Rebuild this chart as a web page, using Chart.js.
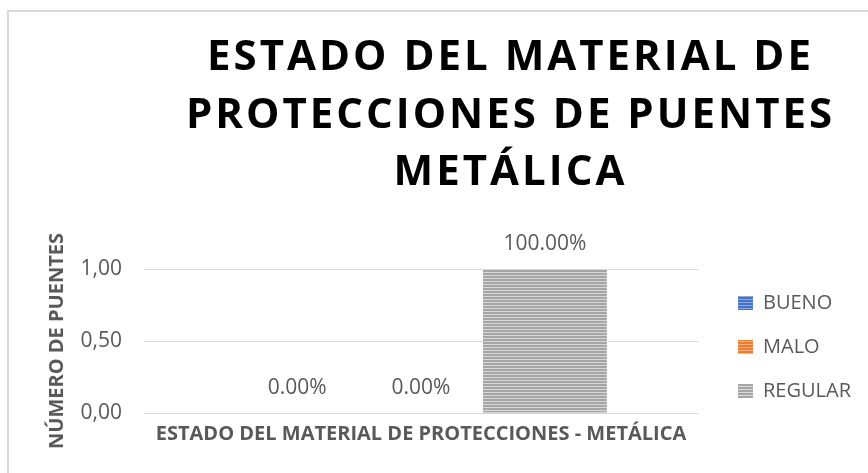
<!DOCTYPE html>
<html lang="es">
<head>
<meta charset="UTF-8">
<title>Estado del material de protecciones de puentes - metálica</title>
<script src="https://cdn.jsdelivr.net/npm/chart.js"></script>
<style>
  html, body { margin: 0; padding: 0; background: #fff; }
  .wrap { position: relative; width: 868px; height: 473px; overflow: hidden; }
  /* marco del gráfico (esquina superior izquierda) */
  .frame {
    position: absolute; left: 7px; top: 10px; right: -10px; bottom: -10px;
    border-left: 2px solid #d9d9d9; border-top: 2px solid #d9d9d9;
  }
  canvas { position: absolute; left: 0; top: 0; }
</style>
</head>
<body>
<div class="wrap">
  <div class="frame"></div>
  <canvas id="grafico" width="868" height="473"></canvas>
</div>
<script>
// datos
const categorias = ['ESTADO DEL MATERIAL DE PROTECCIONES - METÁLICA'];
const series = ['BUENO', 'MALO', 'REGULAR'];
const bueno = [0];
const malo = [0];
const regular = [1];
const ticksY = [0, 0.5, 1];
const tituloLineas = ['ESTADO DEL MATERIAL DE', 'PROTECCIONES DE PUENTES', 'METÁLICA'];

const gris = '#595959';

// relleno rayado horizontal como en Excel
function rayas(oscuro, claro) {
  const c = document.createElement('canvas');
  c.width = 4; c.height = 3;
  const g = c.getContext('2d');
  g.fillStyle = claro;
  g.fillRect(0, 0, 4, 3);
  g.fillStyle = oscuro;
  g.fillRect(0, 0, 4, 2);
  return g.createPattern(c, 'repeat');
}

// porcentajes encima de las barras
const etiquetas = {
  id: 'etiquetas',
  afterDatasetsDraw(chart) {
    const ctx = chart.ctx;
    ctx.save();
    ctx.font = '21px "Open Sans"';
    ctx.fillStyle = gris;
    ctx.textAlign = 'center';
    ctx.textBaseline = 'middle';
    chart.data.labels.forEach((_, i) => {
      let total = 0;
      chart.data.datasets.forEach(ds => total += ds.data[i]);
      chart.data.datasets.forEach((ds, d) => {
        const bar = chart.getDatasetMeta(d).data[i];
        const pct = total ? ds.data[i] / total * 100 : 0;
        ctx.fillText(pct.toFixed(2) + '%', bar.x, bar.y - 25);
      });
    });
    ctx.restore();
  }
};

// título con espaciado entre letras
const titulo = {
  id: 'titulo',
  afterDraw(chart) {
    const ctx = chart.ctx;
    const esp = 3;
    ctx.save();
    ctx.font = 'bold 42px "Open Sans"';
    ctx.letterSpacing = esp + 'px';
    ctx.fillStyle = '#000';
    ctx.textAlign = 'center';
    ctx.textBaseline = 'alphabetic';
    tituloLineas.forEach((t, i) => {
      ctx.fillText(t, 509 + esp / 2, 70 + i * 57.5);
    });
    ctx.restore();
  }
};

// separa la leyenda del área de trazado
const separarLeyenda = {
  id: 'separarLeyenda',
  afterLayout(chart) {
    chart.legend.left += 16;
    chart.legend.right += 16;
  }
};

const ctx = document.getElementById('grafico').getContext('2d');
const colores = [
  rayas('#4472c4', '#8faadc'),
  rayas('#ed7d31', '#f4b183'),
  rayas('#a5a5a5', '#d9d9d9')
];
const valores = [bueno, malo, regular];

new Chart(ctx, {
  type: 'bar',
  data: {
    labels: categorias,
    datasets: series.map((s, i) => ({
      label: s,
      data: valores[i],
      backgroundColor: colores[i],
      borderWidth: 0,
      categoryPercentage: 0.671,
      barPercentage: 1
    }))
  },
  options: {
    responsive: false,
    animation: false,
    layout: { padding: { top: 269, left: 45, right: 23, bottom: 18 } },
    plugins: {
      title: { display: false },
      tooltip: { enabled: false },
      legend: {
        position: 'right',
        align: 'start',
        labels: {
          boxWidth: 15,
          boxHeight: 14,
          padding: 24,
          color: gris,
          font: { family: 'Open Sans', size: 20 }
        }
      }
    },
    scales: {
      x: {
        grid: { display: false, drawTicks: false },
        border: { display: false },
        ticks: {
          color: gris,
          padding: 9,
          maxRotation: 0,
          minRotation: 0,
          font: { family: 'Open Sans', size: 20, weight: 'bold' }
        },
        afterFit: s => { s.paddingLeft = 0; s.paddingRight = 0; }
      },
      y: {
        min: 0,
        max: 1,
        afterBuildTicks: s => { s.ticks = ticksY.map(v => ({ value: v })); },
        grid: { color: '#d9d9d9', lineWidth: 1, drawTicks: false },
        border: { display: false },
        ticks: {
          color: gris,
          padding: 22,
          font: { family: 'Open Sans', size: 21 },
          callback: v => v.toFixed(2).replace('.', ',')
        },
        title: {
          display: true,
          text: 'NÚMERO DE PUENTES',
          color: gris,
          padding: { top: 0, bottom: 12 },
          font: { family: 'Open Sans', size: 20, weight: 'bold' }
        },
        afterFit: s => { s.width = 99; }
      }
    }
  },
  plugins: [etiquetas, titulo, separarLeyenda]
});
</script>
</body>
</html>
